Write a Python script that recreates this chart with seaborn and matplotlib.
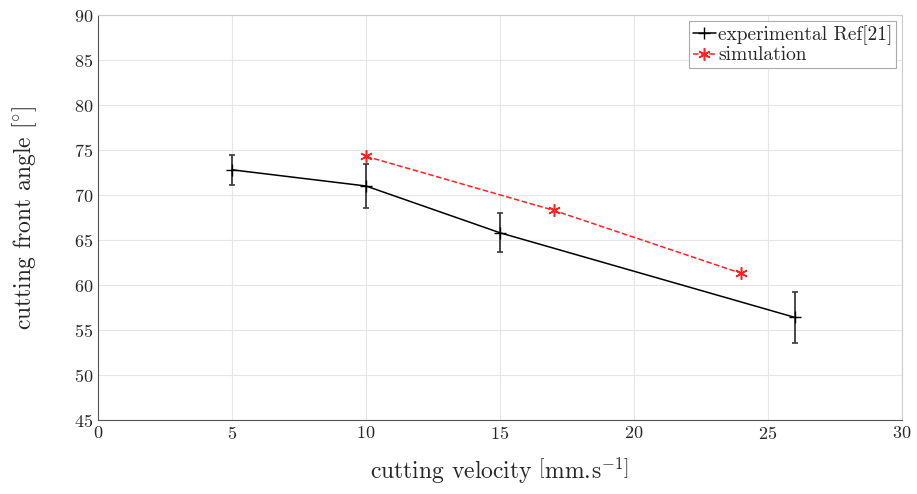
import matplotlib
matplotlib.use('Agg')
import matplotlib.pyplot as plt
import seaborn as sns
import pandas as pd

# =============================================================================
# Data
# =============================================================================
exp_velocity = [5, 10, 15, 26]
exp_angle = [72.8, 71.0, 65.8, 56.4]
exp_err = [1.7, 2.4, 2.15, 2.8]

sim_velocity = [10, 17, 24]
sim_angle = [74.3, 68.3, 61.3]

exp_df = pd.DataFrame({'velocity': exp_velocity, 'angle': exp_angle})
sim_df = pd.DataFrame({'velocity': sim_velocity, 'angle': sim_angle})

# =============================================================================
# Style
# =============================================================================
sns.set_style('whitegrid')
plt.rcParams['font.family'] = ['cmr10', 'DejaVu Serif']
plt.rcParams['mathtext.fontset'] = 'cm'
plt.rcParams['axes.formatter.use_mathtext'] = True

fig = plt.figure(figsize=(9.17, 4.94), dpi=100)
ax = fig.add_axes([0.1069, 0.1498, 0.8768, 0.8198])

# =============================================================================
# Plot
# =============================================================================
ax.errorbar(exp_velocity, exp_angle, yerr=exp_err, fmt='none', ecolor='#3a3a3a',
            elinewidth=1.3, capsize=2.5, capthick=1.2, zorder=3)
sns.lineplot(data=exp_df, x='velocity', y='angle', ax=ax, color='black', lw=1.1,
             marker='+', markersize=8, markeredgewidth=1.0, markeredgecolor='black',
             label='experimental Ref[21]', zorder=4)
# MATLAB style asterisk marker
sns.lineplot(data=sim_df, x='velocity', y='angle', ax=ax, color='#ff2222', lw=1.1,
             linestyle='--', marker=(6, 2, 0), markersize=9, markeredgewidth=1.1,
             markeredgecolor='#ff2222', markerfacecolor='#ff2222',
             label='simulation', zorder=5)

ax.set_xlim(0, 30)
ax.set_ylim(45, 90)
ax.set_xticks(range(0, 31, 5))
ax.set_yticks(range(45, 91, 5))
ax.tick_params(labelsize=13, direction='in', length=4, color='#262626', colors='#262626')

ax.grid(True, color='#e6e6e6', lw=0.8)
for side in ['left', 'bottom']:
    ax.spines[side].set_color('#555555')
    ax.spines[side].set_linewidth(0.8)
for side in ['top', 'right']:
    ax.spines[side].set_color('#cccccc')
    ax.spines[side].set_linewidth(0.8)

ax.set_xlabel(r'cutting velocity $\left[\mathrm{mm.\!s}^{-1}\right]$', fontsize=17, labelpad=10)
ax.set_ylabel(r'cutting front angle $[^{\circ}]$', fontsize=17, labelpad=25)

leg = ax.legend(loc='upper right', fontsize=14, handlelength=1.2, handletextpad=0.1,
                borderpad=0.2, labelspacing=0.1, fancybox=False, framealpha=1,
                borderaxespad=0.3)
leg.get_frame().set_edgecolor('#aaaaaa')
leg.get_frame().set_linewidth(0.8)

fig.savefig('out.png', dpi=100)
